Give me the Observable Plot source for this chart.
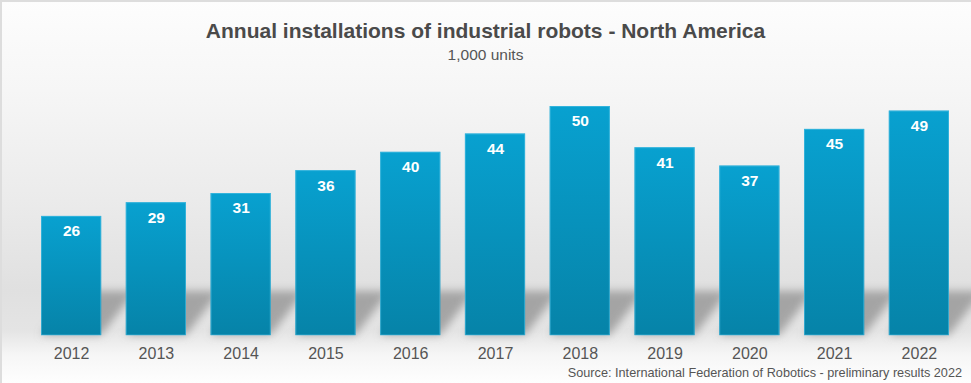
<!DOCTYPE html>
<html><head><meta charset="utf-8">
<script src="https://cdn.jsdelivr.net/npm/d3@7"></script>
<script src="https://cdn.jsdelivr.net/npm/@observablehq/plot@0.6"></script>
<style>
html,body{margin:0;padding:0;background:#fff;}
#wrap{position:relative;width:971px;height:383px;overflow:hidden;
  background:linear-gradient(to bottom,#fdfdfd 0px,#f6f6f6 90px,#ebebeb 200px,#e0e0e0 290px,#e4e4e4 330px,#f6f6f6 355px,#fefefe 383px);
  box-shadow:inset 2px 2px 0 #dddddd;
  font-family:"Liberation Sans",Arial,sans-serif;}
#title{position:absolute;left:0;width:971px;top:18px;text-align:center;font-weight:bold;font-size:21px;color:#4a4a4a;line-height:26px;}
#subtitle{position:absolute;left:0;width:971px;top:45px;text-align:center;font-size:15.5px;color:#555;line-height:20px;}
#chart{position:absolute;left:0;top:75px;}
#source{position:absolute;right:9px;top:365px;font-size:12.7px;color:#555;line-height:16px;white-space:nowrap;}
</style>
</head><body>
<div id="wrap">
  <div id="title">Annual installations of industrial robots - North America</div>
  <div id="subtitle">1,000 units</div>
  <div id="chart"></div>
  <div id="source">Source: International Federation of Robotics - preliminary results 2022</div>
</div>
<script>
const years = ["2012","2013","2014","2015","2016","2017","2018","2019","2020","2021","2022"];
const values = [26, 29, 31, 36, 40, 44, 50, 41, 37, 45, 49];
const data = years.map((year, i) => ({year, value: values[i]}));

function shadowRender(index, scales, vals, dims, context, next) {
  const g = next(index, scales, vals, dims, context);
  const sel = d3.select(g);
  sel.append("defs").html('<filter id="shBlur" x="-50%" y="-50%" width="200%" height="200%"><feGaussianBlur stdDeviation="4"/></filter>');
  const rects = sel.selectAll("rect").nodes();
  const h = 44, dx = 34;
  for (const r of rects) {
    const x0 = +r.getAttribute("x"), w = +r.getAttribute("width");
    const base = +r.getAttribute("y") + +r.getAttribute("height");
    const x1 = x0 + w;
    const pts = [[x0, base], [x1, base], [x1 + dx, base - h], [x0 + dx, base - h]];
    d3.select(r.parentNode).append("polygon")
      .attr("points", pts.map(p => p.join(",")).join(" "))
      .attr("fill", "#888").attr("fill-opacity", 0.68);
    r.remove();
  }
  sel.attr("filter", "url(#shBlur)");
  return g;
}

const plot = Plot.plot({
  width: 971,
  height: 290,
  marginLeft: 41,
  marginRight: 22,
  marginTop: 31,
  marginBottom: 30,
  style: {background: "transparent", fontFamily: "'Liberation Sans', Arial, sans-serif", overflow: "visible"},
  x: {domain: years, paddingInner: 0.29, paddingOuter: 0, round: false, label: null},
  y: {domain: [0, 50], axis: null},
  marks: [
    Plot.barY(data, {x: "year", y: "value", render: shadowRender}),
    Plot.barY(data, {x: "year", y: "value", fill: "url(#barGrad)"}),
    Plot.barY(data, {x: "year", y: "value", fill: "none", stroke: "#4fc0e4", strokeWidth: 1, strokeOpacity: 0.6, insetLeft: 0.5, insetRight: 0.5, insetTop: 0.5}),
    Plot.text(data, {x: "year", y: "value", text: d => String(d.value), dy: 15, fill: "white", fontWeight: "bold", fontSize: 15.5}),
    Plot.axisX({tickSize: 0, tickPadding: 12, fontSize: 16, fill: "#555", label: null})
  ]
});
d3.select(plot).insert("defs", ":first-child").html(
  '<linearGradient id="barGrad" x1="0" y1="0" x2="0" y2="1"><stop offset="0" stop-color="#08a1d0"/><stop offset="1" stop-color="#0683a8"/></linearGradient>');
document.getElementById("chart").appendChild(plot);
</script>
</body></html>
